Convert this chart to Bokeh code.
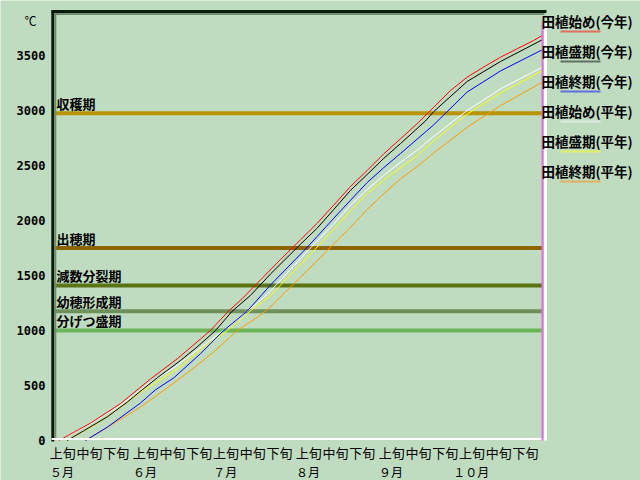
from bokeh.plotting import figure
from bokeh.models import Range1d, FixedTicker, ColumnDataSource
from bokeh.core.properties import value
from bokeh.embed import file_html
from bokeh.resources import INLINE

# ---------------- data ----------------
month_labels = ["５月", "６月", "７月", "８月", "９月", "１０月"]
month_lengths = [31, 30, 31, 31, 30, 31]
dekad_labels = ["上旬", "中旬", "下旬"]
y_ticks = [0, 500, 1000, 1500, 2000, 2500, 3000, 3500]
unit_label = "℃"

stage_names = ["収穫期", "出穂期", "減数分裂期", "幼穂形成期", "分げつ盛期"]
stage_values = [2975, 1750, 1410, 1175, 1000]
stage_colors = ["#b89400", "#8c6400", "#5a7414", "#6e905a", "#6cb45a"]

series_names = ["田植始め(今年)", "田植盛期(今年)", "田植終期(今年)",
                "田植始め(平年)", "田植盛期(平年)", "田植終期(平年)"]
series_colors = ["#ff0000", "#000000", "#0000ff", "#ffffff", "#ffff00", "#ff9900"]
legend_colors = ["#e07060", "#607060", "#6070e0", "#e0ece0", "#e0f060", "#e0b060"]

# days counted from 1 May, cumulative temperature (℃)
red_day = [2.0, 13.8, 25.1, 36.3, 46.3, 58.7, 65.4, 70.6, 76.2, 84.9, 92.4, 98.6, 104.8,
           111.1, 117.3, 123.5, 129.8, 136.6, 142.2, 148.5, 154.7, 160.8, 167.2, 173.4,
           179.5, 182.8]
red_val = [0, 157, 336, 560, 743, 1000, 1175, 1290, 1430, 1645, 1825, 1975, 2140,
           2310, 2455, 2606, 2743, 2894, 3030, 3182, 3303, 3394, 3485, 3561,
           3636, 3682]

black_day = [5.1, 11.3, 20.1, 27.6, 33.2, 38.8, 47.5, 53.7, 60.6, 66.8, 73.7, 81.2,
             92.4, 98.6, 104.8, 111.1, 117.3, 123.5, 129.8, 139.1, 142.2, 154.7,
             167.2, 182.8]
black_val = [0, 88, 215, 349, 462, 570, 727, 850, 1000, 1175, 1320, 1515,
             1785, 1930, 2100, 2275, 2418, 2565, 2700, 2905, 2990, 3264,
             3446, 3643]

blue_day = [12.0, 20.1, 32.5, 38.1, 45.0, 55.0, 63.6, 72.4, 81.2, 94.9, 98.6, 104.8,
            111.1, 117.3, 123.5, 129.8, 136.0, 142.2, 154.7, 167.2, 182.8]
blue_val = [0, 121, 340, 460, 570, 790, 1000, 1175, 1415, 1757, 1855, 2020,
            2185, 2345, 2480, 2610, 2740, 2870, 3168, 3360, 3552]

white_day = [2.0, 13.8, 25.1, 36.3, 45.0, 51.2, 57.5, 63.5, 72.4, 77.4, 81.2, 96.4,
             104.8, 111.1, 117.3, 123.5, 129.8, 136.0, 142.2, 154.7, 167.2, 182.8]
white_val = [0, 150, 322, 530, 660, 775, 890, 1000, 1175, 1273, 1360, 1757,
             1970, 2140, 2280, 2410, 2530, 2640, 2765, 3000, 3197, 3394]

yellow_day = [5.1, 15.7, 25.1, 32.5, 46.3, 56.2, 65.0, 73.5, 81.2, 98.3, 104.8, 111.1,
              117.3, 123.5, 129.8, 136.0, 142.2, 154.7, 167.2, 182.8]
yellow_val = [0, 145, 300, 440, 650, 848, 1000, 1175, 1320, 1750, 1920, 2090,
              2245, 2370, 2480, 2590, 2725, 2968, 3160, 3364]

orange_day = [12.0, 23.2, 32.5, 41.2, 51.2, 59.9, 68.7, 76.2, 80.0, 83.0, 99.9, 104.8,
              111.1, 117.3, 123.5, 129.8, 136.0, 142.2, 154.7, 167.2, 182.8]
orange_val = [0, 166, 303, 455, 636, 805, 1000, 1120, 1190, 1260, 1666, 1788,
              1939, 2100, 2243, 2379, 2490, 2614, 2848, 3045, 3257]

series_days = [red_day, black_day, blue_day, white_day, yellow_day, orange_day]
series_vals = [red_val, black_val, blue_val, white_val, yellow_val, orange_val]

# ---------------- layout helpers ----------------
BG = "#c0dcc0"
W, H = 640, 480
PX_DAY = 2.674      # pixels per day
PX_VAL = 0.11       # pixels per degree-day


def rx(px):  # canvas pixel x -> day
    return (px - 53) / PX_DAY


def ry(py):  # canvas pixel y -> value
    return (440 - py) / PX_VAL


p = figure(width=W, height=H, x_range=Range1d(rx(0), rx(W)), y_range=Range1d(ry(H), ry(0)),
           output_backend="svg", toolbar_location=None,
           min_border_left=0, min_border_right=0, min_border_top=0, min_border_bottom=0,
           background_fill_color=BG, border_fill_color=BG, outline_line_color=None)
p.xgrid.grid_line_color = None
p.ygrid.grid_line_color = None

# stage bands
band_src = ColumnDataSource(dict(y=stage_values, c=stage_colors, name=stage_names))
p.segment(x0=rx(53.5), y0="y", x1=rx(542), y1="y", line_color="c", line_width=4,
          source=band_src)

# curves (normal years first, this year on top)
for i in [3, 4, 5, 0, 1, 2]:
    p.line(series_days[i], series_vals[i], line_color=series_colors[i], line_width=1)

# frame borders
p.segment(x0=rx(52.3), y0=ry(441), x1=rx(52.3), y1=ry(10), line_color="#0c1c0c", line_width=3)
p.segment(x0=rx(54.8), y0=ry(438), x1=rx(54.8), y1=ry(12), line_color="#6f8c6f", line_width=2)
p.segment(x0=rx(51), y0=ry(11), x1=rx(546), y1=ry(11), line_color="#0c1c0c", line_width=3)
p.segment(x0=rx(54), y0=ry(13.5), x1=rx(544), y1=ry(13.5), line_color="#6f8c6f", line_width=2)
p.segment(x0=rx(51), y0=ry(438.5), x1=rx(546), y1=ry(438.5), line_color="#ffffff", line_width=2)
p.segment(x0=rx(545), y0=ry(440), x1=rx(545), y1=ry(21), line_color="#ffffff", line_width=3)
p.segment(x0=rx(542), y0=ry(440), x1=rx(542), y1=ry(21), line_color="#e070e0", line_width=2)

# stage labels
p.text(x=rx(56), y="y", text="name", source=band_src, text_font=value("Noto Sans CJK JP"),
       text_font_style="bold", text_font_size="13px", text_color="#000000",
       text_baseline="middle", text_align="left", y_offset=-10)

# legend
leg_y_text = [ry(20 + 30 * i) for i in range(6)]
leg_y_line = [ry(31 + 30 * i) for i in range(6)]
p.text(x=[rx(541)] * 6, y=leg_y_text, text=series_names, text_font=value("Noto Sans CJK JP"),
       text_font_style="bold", text_font_size="13.5px", text_color="#000000",
       text_baseline="middle", text_align="left")
p.segment(x0=[rx(560)] * 6, y0=leg_y_line, x1=[rx(600)] * 6, y1=leg_y_line,
          line_color=legend_colors, line_width=2)

# y axis (fixed at the plot area's left edge)
yax = p.yaxis[0]
yax.fixed_location = rx(51)
yax.ticker = FixedTicker(ticks=y_ticks)
yax.axis_line_color = None
yax.major_tick_line_color = None
yax.minor_tick_line_color = None
yax.major_tick_out = 0
yax.major_tick_in = 0
yax.major_label_standoff = 6
yax.major_label_text_font = "DejaVu Sans Mono"
yax.major_label_text_font_style = "bold"
yax.major_label_text_font_size = "12px"
yax.major_label_text_color = "#000000"

# x axis: dekads (fixed at the plot area's bottom edge)
month_starts = []
s = 0
for n in month_lengths:
    month_starts.append(s)
    s += n
dekad_ticks = []
overrides = {}
for m in month_starts:
    for k, lab in enumerate(dekad_labels):
        t = m + 10 * k + 3.5
        dekad_ticks.append(t)
        overrides[t] = lab
xax = p.xaxis[0]
xax.fixed_location = ry(441)
xax.ticker = FixedTicker(ticks=dekad_ticks)
xax.major_label_overrides = overrides
xax.axis_line_color = None
xax.major_tick_line_color = None
xax.minor_tick_line_color = None
xax.major_tick_out = 0
xax.major_tick_in = 0
xax.major_label_standoff = 1
xax.major_label_text_font = "Noto Sans CJK JP"
xax.major_label_text_font_size = "13px"
xax.major_label_text_color = "#000000"

# month labels
p.text(x=[m + 3.2 for m in month_starts], y=[ry(471)] * len(month_starts), text=month_labels,
       text_font=value("Noto Sans CJK JP"), text_font_size="12px", text_color="#000000",
       text_align="center", text_baseline="middle")

# unit label
p.text(x=[rx(30)], y=[ry(20)], text=[unit_label], text_font=value("Noto Sans CJK JP"),
       text_font_size="12px", text_color="#000000", text_align="center",
       text_baseline="middle")

open("out.html", "w").write(file_html(p, INLINE))
